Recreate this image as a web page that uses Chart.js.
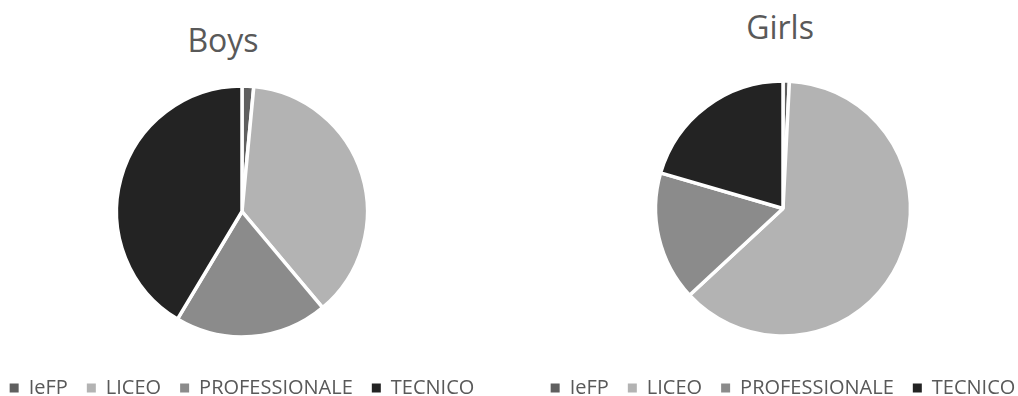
<!DOCTYPE html>
<html>
<head>
<meta charset="utf-8">
<script src="https://cdn.jsdelivr.net/npm/chart.js@4/dist/chart.umd.min.js"></script>
<style>
  html, body { margin: 0; padding: 0; background: #fff; overflow: hidden; }
  body { width: 1018px; height: 396px; position: relative; }
  .title {
    position: absolute; width: 200px; text-align: center;
    font-family: 'Open Sans', sans-serif; font-size: 32px; line-height: 32px; color: #595959;
  }
  .box { position: absolute; }
</style>
</head>
<body>
<div class="title" style="left:123px; top:23.6px;">Boys</div>
<div class="title" style="left:680px; top:10.6px;">Girls</div>
<div class="box" style="left:-28px; top:63.5px; width:540px; height:344px;"><canvas class="chart-boys"></canvas></div>
<div class="box" style="left:513px; top:57.5px; width:540px; height:350px;"><canvas class="chart-girls"></canvas></div>
<script>
var categories = ['IeFP', 'LICEO', 'PROFESSIONALE', 'TECNICO'];
var boysShare = [1.5, 37.4, 19.7, 41.4];
var girlsShare = [0.8, 62.3, 16.4, 20.5];
var sliceColors = ['#5f5f5f', '#b3b3b3', '#8b8b8b', '#232323'];

Chart.defaults.font.family = "'Open Sans', sans-serif";
Chart.defaults.color = '#595959';

// legend squares without the white slice border
function legendLabels(chart) {
    var items = Chart.controllers.pie.overrides.plugins.legend.labels.generateLabels(chart);
    items.forEach(function (it) { it.lineWidth = 0; });
    return items;
}

function makePie(el, values, radius) {
    return new Chart(el, {
        type: 'pie',
        data: {
            labels: categories,
            datasets: [
                {
                    data: values,
                    backgroundColor: sliceColors,
                    borderColor: '#ffffff',
                    borderWidth: 3.5,
                    radius: radius,
                    hoverOffset: 0
                }
            ]
        }, options: {
            responsive: true,
            maintainAspectRatio: false,
            animation: false,
            events: [],
            plugins: {
                tooltip: { enabled: false },
                legend: {
                    position: 'bottom',
                    labels: {
                        font: { size: 20 },
                        boxWidth: 9,
                        boxHeight: 9,
                        padding: 19,
                        generateLabels: legendLabels
                    }
                }
            }
        }
    });
}

var chart1 = makePie(document.querySelector('.chart-boys'), boysShare, 125.5);
var chart2 = makePie(document.querySelector('.chart-girls'), girlsShare, 127.5);
</script>
</body>
</html>
